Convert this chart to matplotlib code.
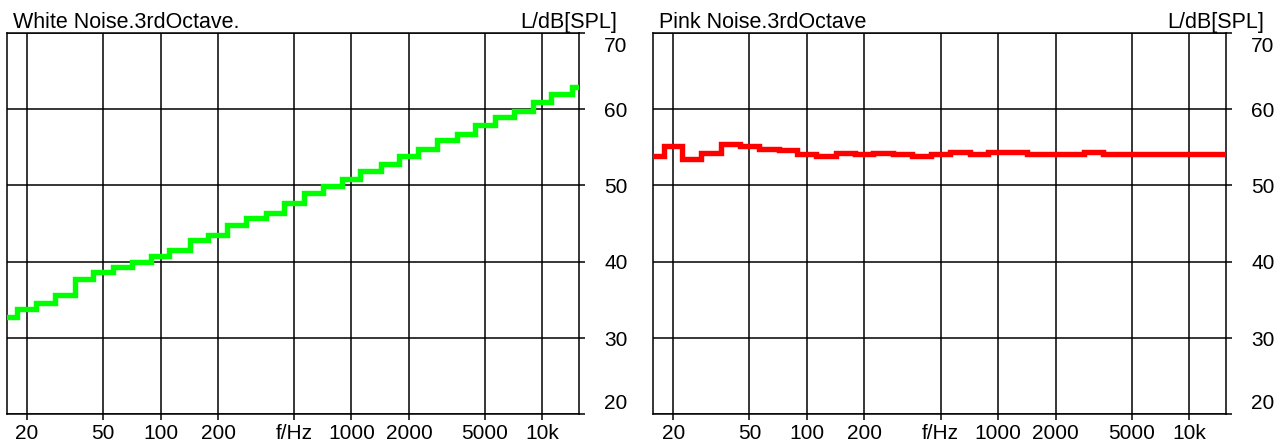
import numpy as np
import matplotlib
matplotlib.use("Agg")
import matplotlib.pyplot as plt
from matplotlib.transforms import ScaledTranslation

plt.rcParams['font.family'] = ['Liberation Sans', 'DejaVu Sans']

# third-octave band centre frequencies (Hz)
bands = [16, 20, 25, 31.5, 40, 50, 63, 80, 100, 125, 160, 200, 250, 315, 400,
         500, 630, 800, 1000, 1250, 1600, 2000, 2500, 3150, 4000, 5000, 6300,
         8000, 10000, 12500, 16000]

white_db = [32.8, 33.8, 34.6, 35.6, 37.7, 38.6, 39.3, 40.0, 40.7, 41.5, 42.9,
            43.5, 44.8, 45.7, 46.4, 47.7, 49.0, 49.9, 50.8, 51.9, 52.8, 53.9,
            54.8, 55.9, 56.75, 57.9, 58.9, 59.8, 60.9, 61.95, 62.95]

pink_db = [53.9, 55.1, 53.4, 54.3, 55.4, 55.1, 54.8, 54.6, 54.1, 53.9, 54.3,
           54.1, 54.3, 54.1, 53.9, 54.1, 54.35, 54.1, 54.35, 54.35, 54.1, 54.1,
           54.1, 54.35, 54.1, 54.1, 54.1, 54.1, 54.1, 54.1, 54.1]

xtick_vals = [20, 50, 100, 200, 500, 1000, 2000, 5000, 10000]
xtick_labels = ['20', '50', '100', '200', 'f/Hz', '1000', '2000', '5000', '10k']
ytick_vals = [20, 30, 40, 50, 60, 70]
ytick_labels = ['20', '30', '40', '50', '60', '70']

titles = ['White Noise.3rdOctave.', 'Pink Noise.3rdOctave']
ylabel = 'L/dB[SPL]'
colors = ['#00ff00', '#ff0000']

W, H = 1279, 443
fig = plt.figure(figsize=(W / 100, H / 100), dpi=100)

c = np.array(bands, dtype=float)
edges = np.append(c * 2 ** (-1 / 6), c[-1] * 2 ** (1 / 6))

panels = [(7, 579.3), (653.3, 1226)]
top_px, bot_px = 32.7, 414.4
fs = 15

for i, (data, (xl, xr)) in enumerate(zip([white_db, pink_db], panels)):
    ax = fig.add_axes([xl / W, 1 - bot_px / H, (xr - xl) / W, (bot_px - top_px) / H])
    ax.set_xscale('log')
    ax.set_xlim(15.7, 15600)
    ax.set_ylim(20, 70)
    ax.stairs(data, edges, baseline=None, color=colors[i], lw=3.9, zorder=3)
    ax.set_xticks(xtick_vals)
    ax.set_xticklabels(xtick_labels)
    ax.xaxis.set_minor_locator(matplotlib.ticker.NullLocator())
    ax.set_yticks(ytick_vals)
    ax.set_yticklabels(ytick_labels)
    ax.yaxis.tick_right()
    ax.grid(True, color='black', lw=1.1, zorder=1)
    for s in ax.spines.values():
        s.set_linewidth(1.1)
        s.set_color('black')
    ax.tick_params(axis='x', length=4, width=1.1, pad=3, labelsize=fs, colors='black')
    ax.tick_params(axis='y', length=4, width=1.1, pad=14, labelsize=fs, colors='black')
    ylabs = ax.get_yticklabels()
    ylabs[0].set_va('bottom')
    ylabs[0].set_transform(ylabs[0].get_transform() + ScaledTranslation(0, 1 / 100, fig.dpi_scale_trans))
    ylabs[-1].set_va('top')
    ylabs[-1].set_transform(ylabs[-1].get_transform() + ScaledTranslation(0, -4 / 100, fig.dpi_scale_trans))
    fig.text((xl + 6) / W, 1 - 28.3 / H, titles[i], fontsize=15.5, ha='left', va='baseline')
    fig.text((xr + 38) / W, 1 - 28.3 / H, ylabel, fontsize=15.5, ha='right', va='baseline')

fig.savefig('out.png', dpi=100)
